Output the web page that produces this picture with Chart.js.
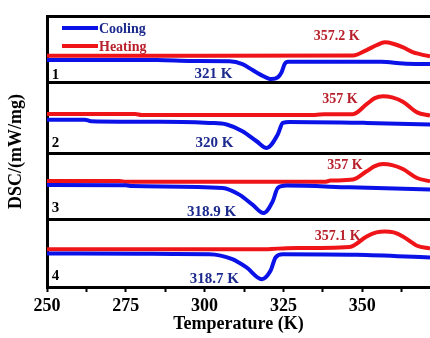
<!DOCTYPE html>
<html>
<head>
<meta charset="utf-8">
<script src="https://cdn.jsdelivr.net/npm/chart.js@4.4.1/dist/chart.umd.min.js"></script>
<style>
  html, body { margin: 0; padding: 0; background: #fff; }
  canvas { display: block; }
</style>
</head>
<body>
<canvas id="dsc" width="430" height="338"></canvas>
<script>
// temperature axis (K)
const tempMin = 250;
const tempMax = 371.5;
const tempStep = 12.5;

// panels, top to bottom
const panelNames = ['1', '2', '3', '4'];
const panelRange = [66, 71, 66.3, 67.2];

// cooling curves (blue)
const cool1T = [250, 285, 296, 307.9, 312, 315.2, 317.4, 321.2, 323.2, 324.4, 325.4, 326.5, 356, 363, 371.5];
const cool1 = [22, 22, 21, 20.8, 18, 12, 8, 3, 4.7, 9.7, 18, 20.3, 20.3, 18.7, 18];
const cool2T = [250, 262, 264, 293, 301.5, 307, 312, 316.5, 319.7, 323.2, 324.8, 327, 351.4, 371.5];
const cool2 = [33.5, 33.5, 32, 31.3, 30.3, 28.7, 22, 12, 5.3, 18.7, 30.3, 31.3, 30.3, 28.7];
const cool3T = [250, 275, 277, 305.7, 311, 315.2, 318.7, 321.6, 323.2, 326, 346, 371.5];
const cool3 = [34.5, 34.3, 33.5, 31.6, 25, 15, 6.6, 18.3, 31.6, 34, 32.3, 30];
const cool4T = [250, 279, 290, 301.5, 308.8, 313.3, 318.1, 320.9, 322.5, 324.8, 348.3, 371.5];
const cool4 = [33.5, 33.2, 33, 32.8, 27.8, 19.5, 7.8, 16.2, 29.5, 32.8, 32.2, 29.5];

// heating curves (red)
const heat1T = [250, 300, 347.1, 351.4, 354.5, 357.2, 359.8, 363, 366.2, 368.3, 371.5];
const heat1 = [26.3, 26.3, 26.5, 32, 36.8, 39.7, 38.3, 34.7, 29.7, 28, 25.7];
const heat2T = [250, 278, 280, 335, 338, 347, 351.4, 354, 356.6, 359.5, 362.9, 367.4, 371.5];
const heat2 = [39.3, 39.2, 38.2, 38.2, 39, 39, 49, 55, 57, 55.8, 51.5, 40.8, 37.7];
const heat3T = [250, 273, 275, 338, 340, 347, 351.4, 354, 356.6, 359.5, 362.9, 367.4, 371.5];
const heat3 = [38.6, 38.6, 37.8, 37.8, 39, 40, 48.3, 53.5, 55.6, 54.5, 50.5, 41.6, 38.3];
const heat4T = [250, 320, 326, 346, 351.4, 354.5, 357.2, 360, 362.9, 367.4, 371.5];
const heat4 = [37.8, 37.8, 38.8, 40, 50.5, 54.5, 55.5, 54.5, 50.5, 41.2, 38.5];

// peak labels and where they sit (temperature, signal)
const coolPeaks = ['321 K', '320 K', '318.9 K', '318.7 K'];
const coolPeakAt = [[302.8, 8], [303.1, 10], [302.2, 8], [303.1, 7.5]];
const heatPeaks = ['357.2 K', '357 K', '357 K', '357.1 K'];
const heatPeakAt = [[341.9, 46], [342.9, 54], [344.5, 54], [342.2, 50.5]];
const panelNameAt = [[251.5, 7], [251.5, 10], [251.5, 12], [251.5, 10.5]];

const coolT = [cool1T, cool2T, cool3T, cool4T];
const coolV = [cool1, cool2, cool3, cool4];
const heatT = [heat1T, heat2T, heat3T, heat4T];
const heatV = [heat1, heat2, heat3, heat4];

const blue = '#0a12e8';
const red = '#ee1418';
const blueText = '#1c2a8e';
const redText = '#b8202c';
const serif = '"Liberation Serif", "Times New Roman", serif';

const toPoints = (ts, vs) => ts.map((t, i) => ({ x: t, y: vs[i] }));

const datasets = [];
panelNames.forEach((p, i) => {
  datasets.push({
    label: 'Cooling',
    data: toPoints(coolT[i], coolV[i]),
    yAxisID: 'p' + (i + 1),
    borderColor: blue,
    borderWidth: 4,
    pointRadius: 0,
    tension: 0.4,
    cubicInterpolationMode: 'monotone'
  });
  datasets.push({
    label: 'Heating',
    data: toPoints(heatT[i], heatV[i]),
    yAxisID: 'p' + (i + 1),
    borderColor: red,
    borderWidth: 4,
    pointRadius: 0,
    tension: 0.4,
    cubicInterpolationMode: 'monotone'
  });
});

const scales = {
  x: {
    type: 'linear',
    min: tempMin,
    max: tempMax,
    title: {
      display: true,
      text: 'Temperature (K)',
      color: '#000',
      font: { family: serif, size: 18, weight: 'bold' },
      padding: { top: 0, bottom: 3 }
    },
    ticks: {
      stepSize: tempStep,
      includeBounds: false,
      autoSkip: false,
      maxRotation: 0,
      padding: 4,
      color: '#000',
      font: { family: serif, size: 18, weight: 'bold' },
      callback: v => (v % 25 === 0 ? v : '')
    },
    grid: { drawOnChartArea: false, tickLength: 5, tickWidth: 2, tickColor: '#000' },
    border: { display: true, width: 3, color: '#000' },
    afterFit: s => { s.height = 51; }
  }
};
// last added left axis ends up on top, so add the bottom panel first
for (let i = panelNames.length - 1; i >= 0; i--) {
  scales['p' + (i + 1)] = {
    type: 'linear',
    position: 'left',
    stack: 'dsc',
    stackWeight: panelRange[i],
    min: 0,
    max: panelRange[i],
    ticks: { display: false },
    grid: { drawTicks: false, color: '#000', lineWidth: 3 },
    border: { display: true, width: 3, color: '#000' },
    afterBuildTicks: s => { s.ticks = [{ value: s.min }, { value: s.max }]; },
    afterFit: s => { s.width = 47; }
  };
}

const textPlugin = {
  id: 'panelText',
  afterDatasetsDraw(chart) {
    const ctx = chart.ctx;
    const x = chart.scales.x;
    const area = chart.chartArea;
    ctx.save();
    ctx.textBaseline = 'middle';

    panelNames.forEach((name, i) => {
      const y = chart.scales['p' + (i + 1)];
      ctx.textAlign = 'left';
      ctx.font = 'bold 15px ' + serif;
      ctx.fillStyle = '#000';
      ctx.fillText(name, x.getPixelForValue(panelNameAt[i][0]), y.getPixelForValue(panelNameAt[i][1]));

      ctx.textAlign = 'center';
      ctx.fillStyle = blueText;
      ctx.fillText(coolPeaks[i], x.getPixelForValue(coolPeakAt[i][0]), y.getPixelForValue(coolPeakAt[i][1]));
      ctx.font = 'bold 14px ' + serif;
      ctx.fillStyle = redText;
      ctx.fillText(heatPeaks[i], x.getPixelForValue(heatPeakAt[i][0]), y.getPixelForValue(heatPeakAt[i][1]));
    });

    // legend, top left of the first panel
    const legendText = [blueText, redText];
    [0, 1].forEach(k => {
      const ds = chart.data.datasets[k];
      const ly = area.top + 12 + k * 18;
      ctx.strokeStyle = ds.borderColor;
      ctx.lineWidth = 4;
      ctx.beginPath();
      ctx.moveTo(area.left + 15, ly);
      ctx.lineTo(area.left + 51, ly);
      ctx.stroke();
      ctx.textAlign = 'left';
      ctx.font = 'bold 14px ' + serif;
      ctx.fillStyle = legendText[k];
      ctx.fillText(ds.label, area.left + 52, ly + 1);
    });

    // y title
    ctx.translate(16, (area.top + area.bottom) / 2);
    ctx.rotate(-Math.PI / 2);
    ctx.textAlign = 'center';
    ctx.font = 'bold 18px ' + serif;
    ctx.fillStyle = '#000';
    ctx.fillText('DSC/(mW/mg)', 0, 0);
    ctx.restore();
  }
};

new Chart(document.getElementById('dsc'), {
  type: 'line',
  data: { datasets: datasets },
  options: {
    responsive: false,
    animation: false,
    devicePixelRatio: 1,
    layout: { padding: { top: 16, right: 0, bottom: 0, left: 0 } },
    plugins: { legend: { display: false }, tooltip: { enabled: false } },
    scales: scales
  },
  plugins: [textPlugin]
});
</script>
</body>
</html>
